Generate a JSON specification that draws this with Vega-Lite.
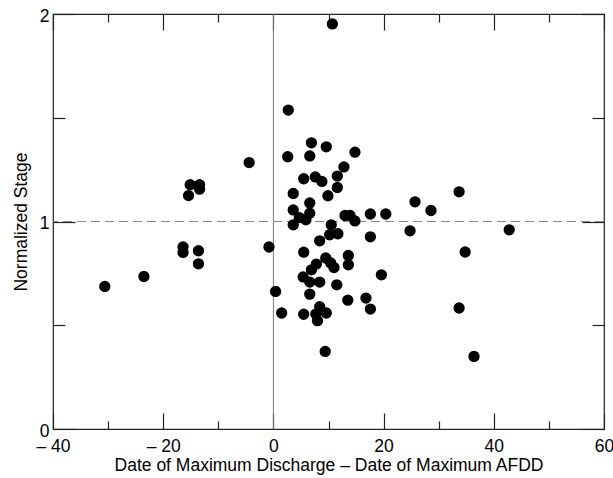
{
  "$schema": "https://vega.github.io/schema/vega-lite/v6.json",
  "width": 551,
  "height": 415,
  "autosize": "none",
  "padding": {"left": 53, "top": 14, "right": 9, "bottom": 49},
  "config": {
    "view": {"stroke": "#222", "strokeWidth": 1.2},
    "font": "Liberation Sans",
    "axis": {
      "domain": false,
      "grid": false,
      "tickColor": "#222",
      "tickWidth": 1.2,
      "labelFont": "Liberation Sans",
      "labelFontSize": 17.5,
      "labelColor": "#000",
      "titleFont": "Liberation Sans",
      "titleFontSize": 17.5,
      "titleFontWeight": "normal",
      "titleColor": "#000"
    }
  },
  "resolve": {"axis": {"x": "independent", "y": "independent"}},
  "layer": [
    {
      "data": {"values": [{}]},
      "mark": {"type": "rule", "color": "#777", "strokeWidth": 1},
      "encoding": {
        "x": {
          "datum": 0,
          "type": "quantitative",
          "scale": {"domain": [-40, 60], "nice": false, "zero": false},
          "axis": {
            "orient": "top",
            "values": [-40, -30, -20, -10, 0, 10, 20, 30, 40, 50, 60],
            "labels": false,
            "title": null,
            "tickSize": {"condition": {"test": "datum.value % 20 === 0", "value": -16}, "value": -8}
          }
        }
      }
    },
    {
      "data": {"values": [{}]},
      "mark": {"type": "rule", "color": "#888", "strokeWidth": 1.2, "strokeDash": [9, 5]},
      "encoding": {
        "y": {
          "datum": 1,
          "type": "quantitative",
          "scale": {"domain": [0, 2], "nice": false, "zero": false},
          "axis": {
            "orient": "right",
            "values": [0, 0.5, 1, 1.5, 2],
            "labels": false,
            "title": null,
            "tickSize": {"condition": {"test": "datum.value % 1 === 0", "value": -22}, "value": -12}
          }
        }
      }
    },
    {
      "data": {
        "values": [
          {"days": -30.6, "stage": 0.687},
          {"days": -23.5, "stage": 0.735},
          {"days": -16.4, "stage": 0.877},
          {"days": -16.4, "stage": 0.851},
          {"days": -13.6, "stage": 0.859},
          {"days": -13.6, "stage": 0.796},
          {"days": -15.4, "stage": 1.125},
          {"days": -15.1, "stage": 1.177},
          {"days": -13.4, "stage": 1.177},
          {"days": -13.4, "stage": 1.156},
          {"days": -4.4, "stage": 1.284},
          {"days": -0.8, "stage": 0.877},
          {"days": 0.4, "stage": 0.663},
          {"days": 1.5, "stage": 0.559},
          {"days": 5.5, "stage": 0.553},
          {"days": 5.4, "stage": 0.733},
          {"days": 5.5, "stage": 0.852},
          {"days": 2.7, "stage": 1.537},
          {"days": 6.9, "stage": 1.379},
          {"days": 9.6, "stage": 1.36},
          {"days": 2.6, "stage": 1.312},
          {"days": 6.6, "stage": 1.316},
          {"days": 14.8, "stage": 1.334},
          {"days": 12.8, "stage": 1.263},
          {"days": 11.6, "stage": 1.219},
          {"days": 5.5, "stage": 1.206},
          {"days": 7.6, "stage": 1.215},
          {"days": 8.8, "stage": 1.193},
          {"days": 11.6, "stage": 1.164},
          {"days": 3.6, "stage": 1.135},
          {"days": 9.9, "stage": 1.124},
          {"days": 6.6, "stage": 1.089},
          {"days": 3.6, "stage": 1.056},
          {"days": 6.6, "stage": 1.04},
          {"days": 4.7, "stage": 1.019},
          {"days": 5.9, "stage": 1.008},
          {"days": 3.6, "stage": 0.984},
          {"days": 10.5, "stage": 0.984},
          {"days": 13.0, "stage": 1.029},
          {"days": 13.9, "stage": 1.029},
          {"days": 14.8, "stage": 1.003},
          {"days": 17.6, "stage": 1.036},
          {"days": 20.4, "stage": 1.036},
          {"days": 10.2, "stage": 0.936},
          {"days": 11.7, "stage": 0.941},
          {"days": 8.4, "stage": 0.907},
          {"days": 17.6, "stage": 0.926},
          {"days": 9.5, "stage": 0.824},
          {"days": 10.4, "stage": 0.8},
          {"days": 11.0, "stage": 0.778},
          {"days": 13.6, "stage": 0.836},
          {"days": 13.6, "stage": 0.791},
          {"days": 7.8, "stage": 0.795},
          {"days": 6.9, "stage": 0.767},
          {"days": 19.6, "stage": 0.743},
          {"days": 6.6, "stage": 0.708},
          {"days": 8.4, "stage": 0.708},
          {"days": 11.5, "stage": 0.695},
          {"days": 6.6, "stage": 0.65},
          {"days": 13.5, "stage": 0.621},
          {"days": 16.8, "stage": 0.631},
          {"days": 17.6, "stage": 0.578},
          {"days": 7.7, "stage": 0.554},
          {"days": 8.4, "stage": 0.589},
          {"days": 9.6, "stage": 0.559},
          {"days": 8.0, "stage": 0.522},
          {"days": 9.4, "stage": 0.374},
          {"days": 25.7, "stage": 1.095},
          {"days": 28.6, "stage": 1.053},
          {"days": 33.7, "stage": 1.143},
          {"days": 24.8, "stage": 0.955},
          {"days": 42.8, "stage": 0.96},
          {"days": 34.8, "stage": 0.853},
          {"days": 33.7, "stage": 0.583},
          {"days": 36.4, "stage": 0.35},
          {"days": 10.7, "stage": 1.952}
        ]
      },
      "mark": {"type": "circle", "color": "#000", "opacity": 1, "size": 128},
      "encoding": {
        "x": {
          "field": "days",
          "type": "quantitative",
          "scale": {"domain": [-40, 60], "nice": false, "zero": false},
          "axis": {
            "orient": "bottom",
            "values": [-40, -30, -20, -10, 0, 10, 20, 30, 40, 50, 60],
            "title": "Date of Maximum Discharge – Date of Maximum AFDD",
            "labelExpr": "datum.value % 20 === 0 ? (datum.value < 0 ? '– ' + abs(datum.value) : '' + datum.value) : ''",
            "labelFlush": false,
            "labelOverlap": false,
            "labelPadding": 24,
            "titlePadding": -6,
            "tickSize": {"condition": {"test": "datum.value % 20 === 0", "value": -16}, "value": -8}
          }
        },
        "y": {
          "field": "stage",
          "type": "quantitative",
          "scale": {"domain": [0, 2], "nice": false, "zero": false},
          "axis": {
            "orient": "left",
            "values": [0, 0.5, 1, 1.5, 2],
            "title": "Normalized Stage",
            "labelExpr": "datum.value % 1 === 0 ? '' + datum.value : ''",
            "labelFlush": false,
            "labelOverlap": false,
            "labelPadding": 26,
            "labelOffset": 2,
            "titlePadding": 9,
            "tickSize": {"condition": {"test": "datum.value % 1 === 0", "value": -22}, "value": -12}
          }
        }
      }
    }
  ]
}
